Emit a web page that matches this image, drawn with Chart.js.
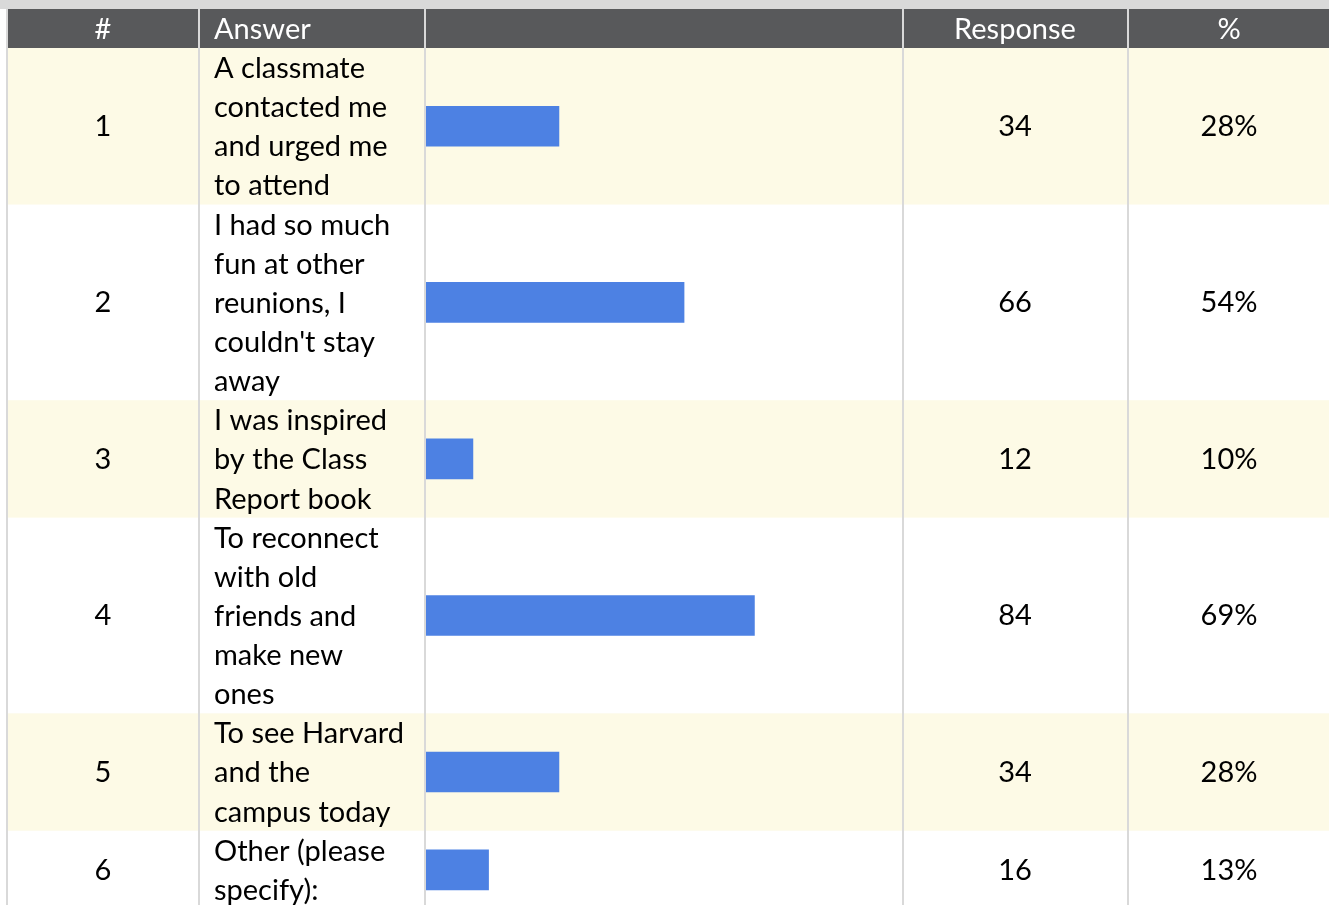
<!DOCTYPE html>
<html>
<head>
<meta charset="utf-8">
<title>Reunion survey</title>
<script src="https://cdn.jsdelivr.net/npm/chart.js@4.4.1/dist/chart.umd.min.js"></script>
<style>
  html, body { margin: 0; padding: 0; background: #fff; overflow: hidden; }
  canvas { display: block; }
</style>
</head>
<body>
<canvas id="chart" width="1329" height="909"></canvas>
<script>
// Table data
const headers = ['#', 'Answer', '', 'Response', '%'];
const rowNumbers = ['1', '2', '3', '4', '5', '6'];
const answers = [
    ['A classmate', 'contacted me', 'and urged me', 'to attend'],
    ['I had so much', 'fun at other', 'reunions, I', "couldn't stay", 'away'],
    ['I was inspired', 'by the Class', 'Report book'],
    ['To reconnect', 'with old', 'friends and', 'make new', 'ones'],
    ['To see Harvard', 'and the', 'campus today'],
    ['Other (please', 'specify):']
];
const responses = [34, 66, 12, 84, 34, 16];
const percents = ['28%', '54%', '10%', '69%', '28%', '13%'];
const totalRespondents = 122;

// Each row is as tall as its wrapped answer text, measured in text lines
const rowStarts = [];
let totalLines = 0;
answers.forEach(lines => {
    rowStarts.push(totalLines);
    totalLines += lines.length;
});

const FONT = '29px Lato, "Open Sans", sans-serif';
const GRID = '#d9d9d9';
const HEAD_BG = '#58595b';
const STRIPE = '#fdfae6';

const tablePlugin = {
    id: 'surveyTable',
    beforeDatasetsDraw(chart) {
        const { ctx, scales: { y }, width, height } = chart;
        ctx.save();
        // top strip and header bar
        ctx.fillStyle = GRID;
        ctx.fillRect(0, 0, width, 9);
        ctx.fillStyle = HEAD_BG;
        ctx.fillRect(8, 9, width - 8, 39);

        // striped rows
        answers.forEach((lines, i) => {
            if (i % 2) return;
            const top = y.getPixelForValue(rowStarts[i]);
            const bottom = y.getPixelForValue(rowStarts[i] + lines.length);
            ctx.fillStyle = STRIPE;
            ctx.fillRect(8, top, width - 8, bottom - top);
        });

        // column rules
        ctx.fillStyle = GRID;
        [6, 198, 424, 902, 1127].forEach(x => ctx.fillRect(x, 9, 2, height - 9));
        ctx.restore();
    },
    afterDraw(chart) {
        const { ctx, scales: { y } } = chart;
        ctx.save();
        ctx.font = FONT;
        ctx.textBaseline = 'alphabetic';

        // header labels
        ctx.fillStyle = '#ffffff';
        ctx.textAlign = 'center';
        ctx.fillText(headers[0], 103, 39);
        ctx.fillText(headers[3], 1015, 39);
        ctx.fillText(headers[4], 1229, 39);
        ctx.textAlign = 'left';
        ctx.fillText(headers[1], 214, 39);

        // body cells
        ctx.fillStyle = '#000000';
        answers.forEach((lines, i) => {
            const mid = y.getPixelForValue(rowStarts[i] + lines.length / 2) + 10;
            ctx.textAlign = 'center';
            ctx.fillText(rowNumbers[i], 103, mid);
            ctx.fillText(String(responses[i]), 1015, mid);
            ctx.fillText(percents[i], 1229, mid);
            ctx.textAlign = 'left';
            lines.forEach((line, k) => {
                ctx.fillText(line, 214, y.getPixelForValue(rowStarts[i] + k) + 30);
            });
        });
        ctx.restore();
    }
};

new Chart(document.getElementById('chart'), {
    type: 'bar',
    data: {
        datasets: [{
            data: responses.map((v, i) => ({ x: v, y: rowStarts[i] + answers[i].length / 2 })),
            backgroundColor: '#4d81e3',
            borderWidth: 0,
            barThickness: 40
        }]
    },
    options: {
        indexAxis: 'y',
        responsive: false,
        animation: false,
        layout: { padding: { left: 426, right: 426, top: 48, bottom: 0 } },
        plugins: { legend: { display: false }, tooltip: { enabled: false } },
        scales: {
            x: { type: 'linear', min: 0, max: totalRespondents, display: false },
            y: { type: 'linear', min: 0, max: totalLines, reverse: true, offset: false, display: false }
        }
    },
    plugins: [tablePlugin]
});
</script>
</body>
</html>
